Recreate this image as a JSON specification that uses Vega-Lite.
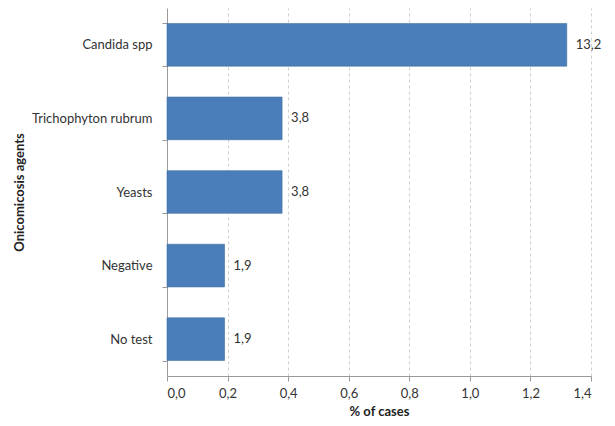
{
  "$schema": "https://vega.github.io/schema/vega-lite/v6.json",
  "autosize": "none",
  "width": 424,
  "height": 368,
  "padding": {"left": 167, "top": 8, "right": 24, "bottom": 50},
  "background": "white",
  "data": {
    "values": [
      {"agent": "Candida spp", "pct": 13.2},
      {"agent": "Trichophyton rubrum", "pct": 3.8},
      {"agent": "Yeasts", "pct": 3.8},
      {"agent": "Negative", "pct": 1.9},
      {"agent": "No test", "pct": 1.9}
    ]
  },
  "encoding": {
    "y": {
      "field": "agent",
      "type": "nominal",
      "sort": null,
      "scale": {"paddingInner": 0.42, "paddingOuter": 0.21},
      "axis": {
        "title": "Onicomicosis agents",
        "titleFont": "Lato",
        "titleFontSize": 13,
        "titleFontWeight": "bold",
        "titleColor": "#222",
        "titleX": -141,
        "labelFont": "Lato",
        "labelFontSize": 13,
        "labelColor": "#333",
        "labelPadding": 10,
        "tickBand": "extent",
        "tickSize": 5,
        "tickColor": "#9a9a9a",
        "domainColor": "#9a9a9a",
        "grid": false
      }
    },
    "x": {
      "field": "pct",
      "type": "quantitative",
      "scale": {"domain": [0, 14], "nice": false},
      "axis": {
        "title": "% of cases",
        "titleFont": "Lato",
        "titleFontSize": 13,
        "titleFontWeight": "bold",
        "titleColor": "#222",
        "titlePadding": 5,
        "values": [0, 2, 4, 6, 8, 10, 12, 14],
        "labelExpr": "replace(format(datum.value / 10, '.1f'), '.', ',')",
        "labelFont": "Lato",
        "labelFontSize": 13,
        "labelColor": "#333",
        "labelPadding": 6,
        "tickSize": 5,
        "tickColor": "#9a9a9a",
        "domainColor": "#9a9a9a",
        "grid": true,
        "gridColor": "#cfcfcf",
        "gridDash": [3, 3],
        "gridOpacity": {"condition": {"test": "datum.value === 0", "value": 0}, "value": 1}
      }
    }
  },
  "layer": [
    {
      "mark": {"type": "bar", "color": "#4a7ebb", "stroke": "#41719c", "strokeWidth": 0.6}
    },
    {
      "mark": {"type": "text", "align": "left", "dx": 9, "font": "Lato", "fontSize": 13, "color": "#333"},
      "encoding": {
        "text": {"field": "pct", "type": "quantitative", "format": ".1f"}
      }
    }
  ],
  "config": {
    "view": {"stroke": null},
    "locale": {
      "number": {"decimal": ",", "thousands": ".", "grouping": [3], "currency": ["", " €"]}
    }
  }
}
